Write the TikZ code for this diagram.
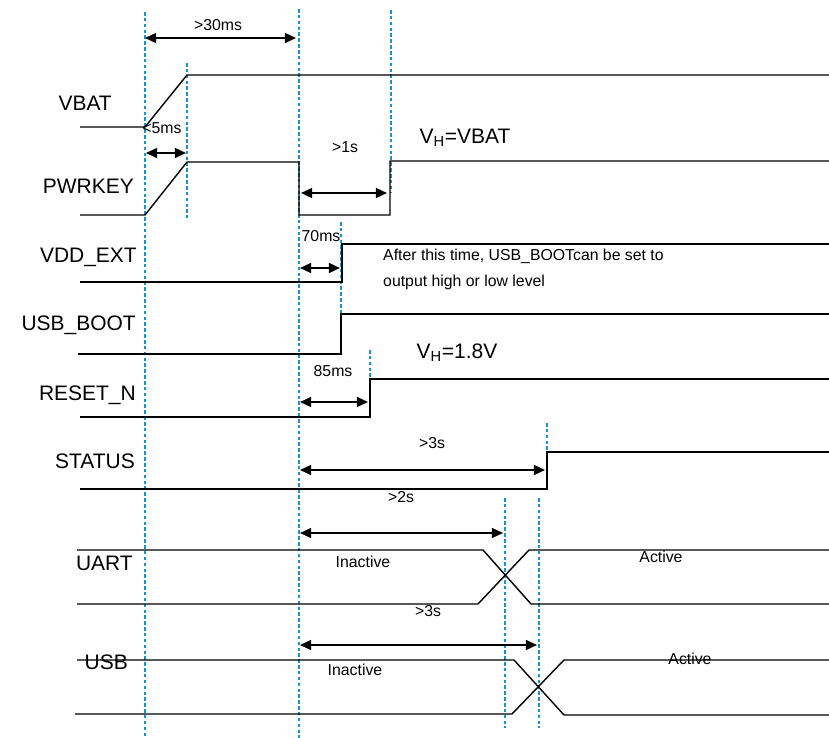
\documentclass[tikz,border=0pt]{standalone}
\usepackage{fontspec}
\setmainfont{Liberation Sans}
\usetikzlibrary{arrows.meta}

\definecolor{guideblue}{RGB}{20,150,205}
\newcommand{\namefont}{\fontsize{17.9}{20}\selectfont}
\newcommand{\labfont}{\fontsize{13.5}{16}\selectfont}

\begin{document}
\begin{tikzpicture}[
    x=0.03cm, y=-0.03cm,
    signame/.style={font=\namefont, anchor=base east, inner sep=0pt},
    lab/.style={font=\labfont, inner sep=0pt},
    wave/.style={line width=1.2pt, line join=miter},
    guide/.style={guideblue, line width=0.9pt, dash pattern=on 3pt off 2pt},
    dim/.style={{Triangle[length=9.5pt,width=8.5pt]}-{Triangle[length=9.5pt,width=8.5pt]}, line width=1.5pt}
]
\useasboundingbox (0,0) rectangle (829,738);

% Guide lines
\draw[guide] (145,12) -- (145,738);
\draw[guide] (187,63) -- (187,218);
\draw[guide] (299,9) -- (299,738);
\draw[guide] (391,10) -- (391,192);
\draw[guide] (341,222) -- (341,356);
\draw[guide] (370,350) -- (370,380);
\draw[guide] (547,423) -- (547,488);
\draw[guide] (505,498) -- (505,728);
\draw[guide] (539,498) -- (539,728);

% Signal names
\node[signame] (vbat) at (112,110.5) {VBAT};
\node[signame] (pwrkey) at (134,193.5) {PWRKEY};
\node[signame] (vddext) at (137,262.5) {VDD\_EXT};
\node[signame] (usbboot) at (136,330.5) {USB\_BOOT};
\node[signame] (resetn) at (136,400.5) {RESET\_N};
\node[signame] (status) at (135,468.5) {STATUS};
\node[signame] (uart) at (133,570.5) {UART};
\node[signame] (usb) at (128,669.5) {USB};

% Waveforms
\draw[wave] (80,127) -- (145,127) -- (187,75) -- (829,75);
\draw[wave] (80,215) -- (145,215) -- (187,162) -- (299,162) -- (299,215)
    -- (390,215) -- (390,161) -- (829,161);
\draw[wave] (80,282) -- (342,282) -- (342,244) -- (829,244);
\draw[wave] (78,354) -- (341,354) -- (341,314) -- (829,314);
\draw[wave] (80,417) -- (370,417) -- (370,379) -- (829,379);
\draw[wave] (80,489) -- (547,489) -- (547,452) -- (829,452);
\draw[wave] (77,550) -- (483,550) -- (531,604) -- (829,604);
\draw[wave] (77,604) -- (478,604) -- (529,550) -- (829,550);
\draw[wave] (77,660) -- (514,660) -- (564,715) -- (829,715);
\draw[wave] (75,714) -- (512,714) -- (564,660) -- (829,660);

% Timing marks
\coordinate (a30) at (145,38);   \coordinate (b30) at (296,38);
\coordinate (a5) at (146,153);   \coordinate (b5) at (186,153);
\coordinate (a1s) at (301,193);  \coordinate (b1s) at (387,193);
\coordinate (a70) at (300,268);  \coordinate (b70) at (340,268);
\coordinate (a85) at (300,402);  \coordinate (b85) at (368,402);
\coordinate (a3s) at (300,470);  \coordinate (b3s) at (545,470);
\coordinate (a2s) at (300,533);  \coordinate (b2s) at (503,533);
\coordinate (c3s) at (300,645);  \coordinate (d3s) at (537,645);

\draw[dim] (a30) -- (b30);
\draw[dim] (a5) -- (b5);
\draw[dim] (a1s) -- (b1s);
\draw[dim] (a70) -- (b70);
\draw[dim] (a85) -- (b85);
\draw[dim] (a3s) -- (b3s);
\draw[dim] (a2s) -- (b2s);
\draw[dim] (c3s) -- (d3s);

% Labels
\node[lab] (t30) at (218,25) {>30ms};
\node[lab] (t5) at (162,128) {<5ms};
\node[lab] (t1s) at (345,147) {>1s};
\node[lab] (t70) at (321,236) {70ms};
\node[lab] (t85) at (333,371) {85ms};
\node[lab] (t3s) at (432,443) {>3s};
\node[lab] (t2s) at (401,497) {>2s};
\node[lab] (t3sb) at (428,611) {>3s};

\node[font=\namefont, inner sep=0pt] (vhbat) at (465,138) {V\textsubscript{H}=VBAT};
\node[font=\namefont, inner sep=0pt] (vh18) at (457,353) {V\textsubscript{H}=1.8V};

\node[lab, anchor=base west] (note1) at (383,260.5) {After this time, USB\_BOOTcan be set to};
\node[lab, anchor=base west] (note2) at (383,287) {output high or low level};

\node[lab] (uartin) at (363,562) {Inactive};
\node[lab] (uartact) at (661,557) {Active};
\node[lab] (usbin) at (355,670) {Inactive};
\node[lab] (usbact) at (690,659) {Active};

\end{tikzpicture}
\end{document}
